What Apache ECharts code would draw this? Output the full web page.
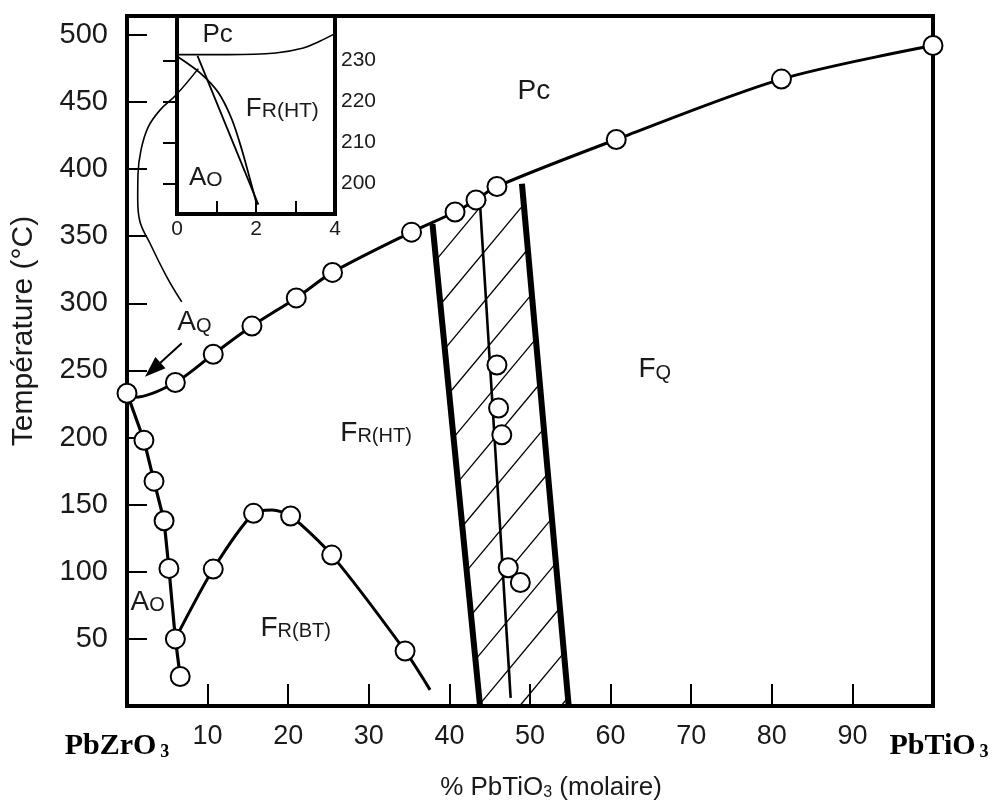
<!DOCTYPE html>
<html>
<head>
<meta charset="utf-8">
<script src="https://cdn.jsdelivr.net/npm/echarts@6/dist/echarts.min.js"></script>
<style>html,body{margin:0;padding:0;background:#fff}#c{width:992px;height:801px}</style>
</head>
<body>
<div id="c"></div>
<script>
// ---------------- data ----------------
const xTickValues = [10, 20, 30, 40, 50, 60, 70, 80, 90];
const xLabelValues = [0, 10, 20, 30, 40, 50, 60, 70, 80, 90, 100];
const endMembers = { 0: 'PbZrO', 100: 'PbTiO' };
const yTickValues = [50, 100, 150, 200, 250, 300, 350, 400, 450, 500];
const insetXLabelValues = [0, 2, 4];
const insetXTickValues = [1, 2, 3];
const insetYTickValues = [200, 210, 220, 230];

// Curie line (Pc / ferroelectric boundary): measured points (circles)
const curieMeasured = [[0, 233], [6, 241], [10.7, 262], [15.5, 283], [21, 304], [25.5, 323],
  [35.3, 353], [40.7, 368], [43.3, 377], [45.9, 387], [60.7, 422], [81.2, 467], [100, 492]];
const curieBend = [[1, 230]];
// A_O / F_R(HT) boundary
const aoMeasured = [[2.1, 198], [3.35, 167.5], [4.6, 138], [5.2, 102.5], [6, 50], [6.6, 22]];
const aoStart = [[0, 233]];
// F_R(HT) / F_R(BT) dome
const domeMeasured = [[10.7, 102], [15.7, 143.5], [20.3, 141.5], [25.4, 112.4], [34.5, 41]];
const domeShape = [[6, 50], [18, 146], [37.6, 12]];
// Morphotropic phase boundary region
const mpbLeft = [[37.9, 359], [43.8, 0]];
const mpbRight = [[49, 389], [54.8, 0]];
const mpbCenter = [[43.8, 374], [47.6, 6]];
const mpbMeasured = [[45.9, 254], [46.1, 222], [46.5, 202], [47.3, 103], [48.8, 92]];
// A_Q pointer curve and arrow (tail, tip)
const aqPointer = [[8.85, 474.8], [6.08, 455.1], [4.09, 443.9], [2.64, 431.4], [1.74, 414.3],
  [1.36, 395.7], [1.33, 377.1], [1.61, 360.7], [2.85, 344.7], [4.93, 319.7], [6.79, 301]];
const aqArrow = [[6.79, 270.3], [2.23, 245.2]];
// inset (0-4 % PbTiO3, 193-241 °C)
const insetCurie = [[0, 231.4], [1.3, 231.4], [2.5, 231.8], [3.2, 233], [3.6, 234.6], [4, 236.5]];
const insetBoundaryCurved = [[0, 231], [0.59, 226.9], [1.05, 222.1], [1.39, 215.6], [1.64, 208.3], [1.85, 201], [2.02, 194.9]];
const insetBoundaryStraight = [[0.52, 231.1], [2.06, 194.9]];
// region labels: [x, y, big, sub]
const regionLabels = [
  [48.4, 458.7, 'Pc', ''],
  [63.4, 251.7, 'F', 'Q'],
  [26.4, 204.2, 'F', 'R(HT)'],
  [16.5, 59, 'F', 'R(BT)'],
  [0.37, 78.3, 'A', 'O'],
  [6.17, 286.8, 'A', 'Q']
];
const insetLabels = [
  [0.63, 236.4, 'Pc', ''],
  [1.73, 218.4, 'F', 'R(HT)'],
  [0.29, 201.6, 'A', 'O']
];

// ---------------- helpers ----------------
const SANS = 'Liberation Sans, Arial, sans-serif';
const SERIF = 'Liberation Serif, Times New Roman, serif';
const TXT = '#1a1a1a';

function withSymbols(measured, extra) {
  const pts = measured.map(p => ({ value: p }))
    .concat(extra.map(p => ({ value: p, symbol: 'none' })));
  pts.sort((a, b) => a.value[0] - b.value[0]);
  return pts;
}
const circleStyle = { color: '#fff', borderColor: '#000', borderWidth: 2, opacity: 1 };

function clipToPolygon(p, d, poly) {
  let sMin = Infinity, sMax = -Infinity;
  for (let i = 0; i < poly.length; i++) {
    const a = poly[i], b = poly[(i + 1) % poly.length];
    const ex = b[0] - a[0], ey = b[1] - a[1];
    const det = -d[0] * ey + ex * d[1];
    if (Math.abs(det) < 1e-9) continue;
    const wx = a[0] - p[0], wy = a[1] - p[1];
    const s = (-wx * ey + ex * wy) / det;
    const u = (d[0] * wy - d[1] * wx) / det;
    if (u >= -1e-9 && u <= 1 + 1e-9) { sMin = Math.min(sMin, s); sMax = Math.max(sMax, s); }
  }
  if (!isFinite(sMin) || sMax - sMin < 1) return null;
  return [[p[0] + d[0] * sMin, p[1] + d[1] * sMin], [p[0] + d[0] * sMax, p[1] + d[1] * sMax]];
}

function labelRich(bigSize, subSize) {
  return {
    big: { fontFamily: SANS, fontSize: bigSize, color: TXT, lineHeight: bigSize + 2, verticalAlign: 'bottom' },
    sub: { fontFamily: SANS, fontSize: subSize, color: TXT, lineHeight: subSize - 2, verticalAlign: 'bottom' }
  };
}
function labelText(big, sub) {
  return '{big|' + big + '}' + (sub ? '{sub|' + sub + '}' : '');
}

// ---------------- chart ----------------
const chart = echarts.init(document.getElementById('c'), null, { renderer: 'canvas' });

const option = {
  animation: false,
  backgroundColor: '#fff',
  grid: [
    { left: 127, top: 16, width: 806, height: 690, show: true, borderColor: '#000', borderWidth: 4, containLabel: false },
    { left: 177, top: 16, width: 158, height: 198, show: true, borderColor: '#000', borderWidth: 4, backgroundColor: '#fff', containLabel: false }
  ],
  xAxis: [
    {
      type: 'value', gridIndex: 0, min: 0, max: 100,
      axisLine: { show: true, lineStyle: { color: '#000', width: 4 } },
      axisTick: { show: true, inside: true, length: 22, lineStyle: { color: '#000', width: 2 }, customValues: xTickValues },
      axisLabel: {
        customValues: xLabelValues, margin: 17, fontSize: 27, fontFamily: SANS, color: TXT,
        formatter: v => {
          if (endMembers[v] !== undefined) {
            return v === 0 ? '{chem|' + endMembers[v] + '}{sub|3}{gap|}'
                           : '{gap2|}{chem|' + endMembers[v] + '}{sub|3}';
          }
          return String(v);
        },
        rich: {
          chem: { fontFamily: SERIF, fontWeight: 'bold', fontSize: 30, color: '#000', lineHeight: 38, verticalAlign: 'bottom' },
          sub: { fontFamily: SERIF, fontWeight: 'bold', fontSize: 18, color: '#000', lineHeight: 30, verticalAlign: 'bottom', padding: [0, 0, 0, 4] },
          gap: { width: 20 },
          gap2: { width: 12 }
        }
      },
      splitLine: { show: false }
    },
    {
      type: 'value', gridIndex: 1, min: 0, max: 4, position: 'bottom',
      axisLine: { show: true, lineStyle: { color: '#000', width: 4 } },
      axisTick: { show: true, inside: true, length: 13, lineStyle: { color: '#000', width: 2 }, customValues: insetXTickValues },
      axisLabel: { customValues: insetXLabelValues, margin: 5, fontSize: 21, fontFamily: SANS, color: TXT },
      splitLine: { show: false }
    }
  ],
  yAxis: [
    {
      type: 'value', gridIndex: 0, min: 0, max: 514,
      axisLine: { show: true, lineStyle: { color: '#000', width: 4 } },
      axisTick: { show: true, inside: true, length: 20, lineStyle: { color: '#000', width: 2 }, customValues: yTickValues },
      axisLabel: { customValues: yTickValues, margin: 19, fontSize: 29, fontFamily: SANS, color: TXT },
      splitLine: { show: false }
    },
    {
      type: 'value', gridIndex: 1, min: 192.6, max: 240.8, position: 'right',
      axisLine: { show: true, lineStyle: { color: '#000', width: 4 } },
      axisTick: { show: true, inside: true, length: 14, lineStyle: { color: '#000', width: 2 }, customValues: insetYTickValues },
      axisLabel: { customValues: insetYTickValues, margin: 6, fontSize: 21, fontFamily: SANS, color: TXT },
      splitLine: { show: false }
    }
  ],
  graphic: [
    {
      type: 'text', x: 24, y: 331, rotation: Math.PI / 2, silent: true,
      style: { text: 'Température (°C)', font: '30px ' + SANS, fill: TXT, align: 'center', verticalAlign: 'middle' }
    },
    {
      type: 'text', x: 551, y: 787, silent: true,
      style: {
        text: '{a|% PbTiO}{s|3}{a| (molaire)}', align: 'center', verticalAlign: 'middle',
        rich: {
          a: { fontFamily: SANS, fontSize: 26, fill: TXT, color: TXT, lineHeight: 28, verticalAlign: 'bottom' },
          s: { fontFamily: SANS, fontSize: 16, fill: TXT, color: TXT, lineHeight: 11, verticalAlign: 'bottom' }
        }
      }
    }
  ],
  series: [
    {
      // hatching of the morphotropic region
      type: 'custom', xAxisIndex: 0, yAxisIndex: 0, silent: true, z: 1,
      data: [[45, 200]],
      renderItem: function (params, api) {
        const A = api.coord(mpbLeft[0]), B = api.coord(mpbLeft[1]);
        const C = api.coord(mpbRight[0]), D = api.coord(mpbRight[1]);
        const poly = [A, C, D, B];
        const dir = [1, -1.2];
        const children = [];
        for (let k = -3; k < 16; k++) {
          const off = 36 + 44.4 * k;
          const t = off / (B[1] - A[1]);
          const p = [A[0] + (B[0] - A[0]) * t, A[1] + (B[1] - A[1]) * t];
          const seg = clipToPolygon(p, dir, poly);
          if (seg) {
            children.push({
              type: 'line',
              shape: { x1: seg[0][0], y1: seg[0][1], x2: seg[1][0], y2: seg[1][1] },
              style: { stroke: '#000', lineWidth: 1.3 }
            });
          }
        }
        return { type: 'group', children: children };
      }
    },
    {
      type: 'line', xAxisIndex: 0, yAxisIndex: 0, data: mpbLeft, symbol: 'none', silent: true, z: 2,
      lineStyle: { color: '#000', width: 6 }
    },
    {
      type: 'line', xAxisIndex: 0, yAxisIndex: 0, data: mpbRight, symbol: 'none', silent: true, z: 2,
      lineStyle: { color: '#000', width: 6 }
    },
    {
      type: 'line', xAxisIndex: 0, yAxisIndex: 0, data: mpbCenter, symbol: 'none', silent: true, z: 2,
      lineStyle: { color: '#000', width: 2.6 }
    },
    {
      type: 'line', xAxisIndex: 0, yAxisIndex: 0, data: withSymbols(curieMeasured, curieBend),
      smooth: 0.3, symbol: 'circle', symbolSize: 19, showAllSymbol: true, silent: true, z: 4,
      lineStyle: { color: '#000', width: 3 }, itemStyle: circleStyle, emphasis: { disabled: true }
    },
    {
      type: 'line', xAxisIndex: 0, yAxisIndex: 0, data: withSymbols(aoMeasured, aoStart),
      symbol: 'circle', symbolSize: 19, showAllSymbol: true, silent: true, z: 3,
      lineStyle: { color: '#000', width: 3.2 }, itemStyle: circleStyle, emphasis: { disabled: true }
    },
    {
      type: 'line', xAxisIndex: 0, yAxisIndex: 0, data: withSymbols(domeMeasured, domeShape),
      smooth: 0.25, symbol: 'circle', symbolSize: 19, showAllSymbol: true, silent: true, z: 3,
      lineStyle: { color: '#000', width: 3 }, itemStyle: circleStyle, emphasis: { disabled: true }
    },
    {
      type: 'scatter', xAxisIndex: 0, yAxisIndex: 0, data: mpbMeasured, symbol: 'circle', symbolSize: 19,
      silent: true, z: 5, itemStyle: circleStyle, emphasis: { disabled: true }
    },
    {
      type: 'line', xAxisIndex: 0, yAxisIndex: 0, data: aqPointer, smooth: 0.4, symbol: 'none', silent: true, z: 6,
      clip: false,
      lineStyle: { color: '#000', width: 1.6 }
    },
    {
      // arrow pointing to the A_Q region
      type: 'custom', xAxisIndex: 0, yAxisIndex: 0, silent: true, z: 6, clip: false,
      data: [aqArrow[1]],
      renderItem: function (params, api) {
        const p0 = api.coord(aqArrow[0]), p1 = api.coord(aqArrow[1]);
        const dx = p1[0] - p0[0], dy = p1[1] - p0[1];
        const len = Math.sqrt(dx * dx + dy * dy);
        const ux = dx / len, uy = dy / len;
        const headLen = 21, headHalf = 7.5;
        const bx = p1[0] - ux * headLen, by = p1[1] - uy * headLen;
        const nx = -uy, ny = ux;
        return {
          type: 'group',
          children: [
            { type: 'line', shape: { x1: p0[0], y1: p0[1], x2: bx + ux * 2, y2: by + uy * 2 }, style: { stroke: '#000', lineWidth: 2 } },
            { type: 'polygon', shape: { points: [[p1[0], p1[1]], [bx + nx * headHalf, by + ny * headHalf], [bx - nx * headHalf, by - ny * headHalf]] }, style: { fill: '#000' } }
          ]
        };
      }
    },
    {
      type: 'scatter', xAxisIndex: 0, yAxisIndex: 0, silent: true, z: 7,
      symbolSize: 1, itemStyle: { color: 'transparent', opacity: 1 },
      data: regionLabels.map(r => ({ value: [r[0], r[1]], big: r[2], sub: r[3] })),
      label: {
        show: true, position: 'right', distance: 0, opacity: 1,
        formatter: p => labelText(p.data.big, p.data.sub),
        rich: labelRich(28, 20)
      },
      emphasis: { disabled: true }
    },
    {
      type: 'line', xAxisIndex: 1, yAxisIndex: 1, data: insetCurie, smooth: 0.4, symbol: 'none', silent: true, z: 6,
      lineStyle: { color: '#000', width: 1.6 }
    },
    {
      type: 'line', xAxisIndex: 1, yAxisIndex: 1, data: insetBoundaryCurved, smooth: 0.3, symbol: 'none', silent: true, z: 6,
      lineStyle: { color: '#000', width: 1.8 }
    },
    {
      type: 'line', xAxisIndex: 1, yAxisIndex: 1, data: insetBoundaryStraight, symbol: 'none', silent: true, z: 6,
      lineStyle: { color: '#000', width: 1.8 }
    },
    {
      type: 'scatter', xAxisIndex: 1, yAxisIndex: 1, silent: true, z: 7,
      symbolSize: 1, itemStyle: { color: 'transparent', opacity: 1 },
      data: insetLabels.map(r => ({ value: [r[0], r[1]], big: r[2], sub: r[3] })),
      label: {
        show: true, position: 'right', distance: 0, opacity: 1,
        formatter: p => labelText(p.data.big, p.data.sub),
        rich: labelRich(26, 21)
      },
      emphasis: { disabled: true }
    }
  ]
};
chart.setOption(option);
</script>
</body>
</html>
